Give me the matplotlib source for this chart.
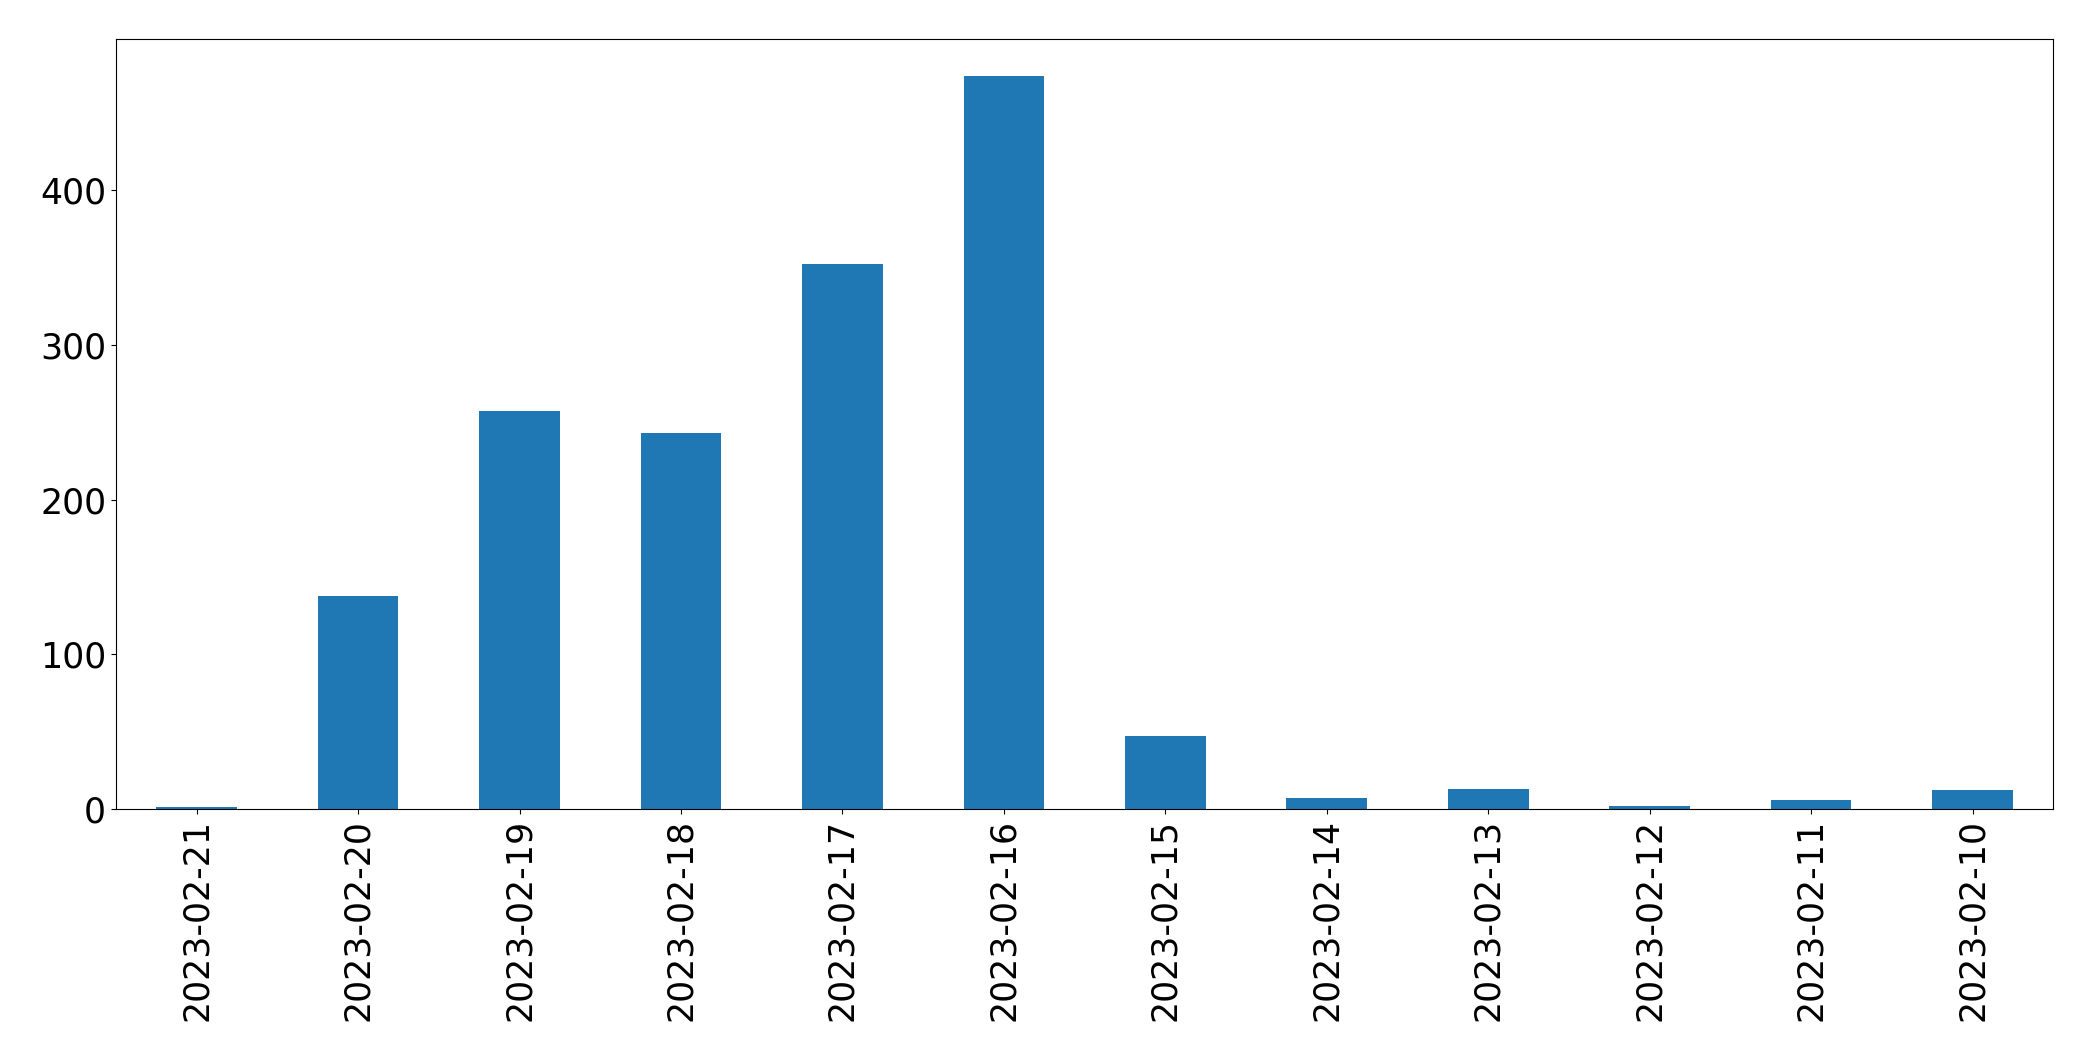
import matplotlib
matplotlib.use("Agg")
import matplotlib.pyplot as plt

# daily counts, newest first (as in the reference)
dates = ["2023-02-21", "2023-02-20", "2023-02-19", "2023-02-18", "2023-02-17", "2023-02-16",
         "2023-02-15", "2023-02-14", "2023-02-13", "2023-02-12", "2023-02-11", "2023-02-10"]
counts = [1, 138, 257, 243, 352, 474, 47, 7, 13, 2, 6, 12]

fig, ax = plt.subplots(figsize=(20.93, 10.61), dpi=100)
fig.subplots_adjust(left=0.0554, right=0.981, top=0.9632, bottom=0.2375)

x = range(len(dates))
ax.bar(x, counts, width=0.5, color="#1f77b4")
ax.set_xlim(-0.5, len(dates) - 0.5)
ax.set_xticks(list(x))
ax.set_xticklabels(dates, rotation=90)
ax.tick_params(labelsize=25)

fig.savefig("out.png", dpi=100)
